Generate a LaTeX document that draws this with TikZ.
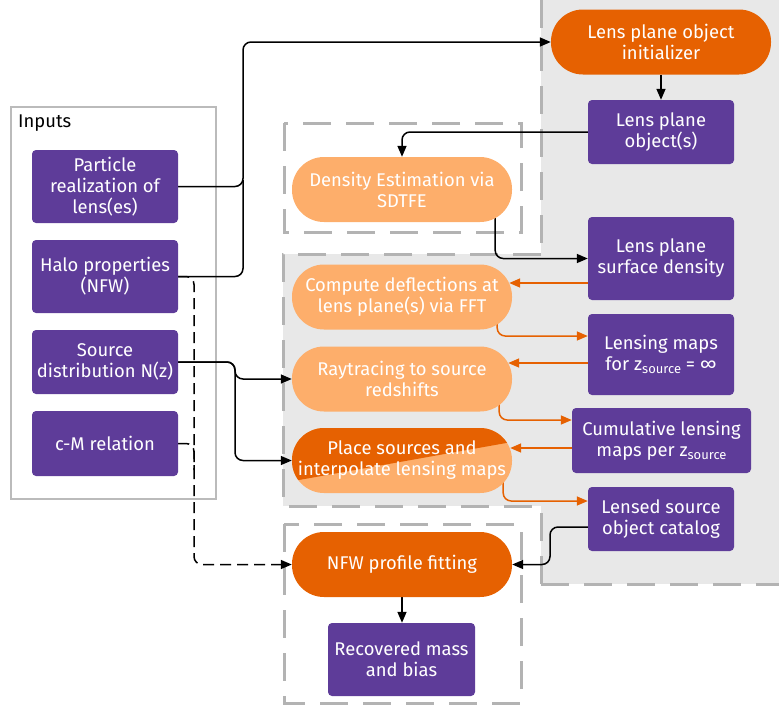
\documentclass[tikz,border=0pt]{standalone}
\usepackage{fontspec}
\setmainfont{Fira Sans}
\usetikzlibrary{arrows.meta}
\definecolor{purp}{HTML}{5E3C99}
\definecolor{dor}{HTML}{E66101}
\definecolor{lor}{HTML}{FDAE6B}
\definecolor{regfill}{HTML}{E8E8E8}
\definecolor{dashc}{HTML}{B3B3B3}
\definecolor{inbord}{HTML}{BBBBBB}
\pgfdeclarelayer{back}\pgfdeclarelayer{bg}\pgfsetlayers{back,bg,main}
\newcommand\zsrc{z\raisebox{-3pt}{\fontsize{13}{13}\selectfont source}}
\begin{document}
\begin{tikzpicture}[x=1pt,y=-1pt,font=\fontsize{18.4}{21}\selectfont,
  pbox/.style={fill=purp,text=white,rounded corners=4pt,align=center,inner sep=0pt,minimum width=146pt},
  stad/.style={rounded corners=32pt,align=center,text=white,inner sep=0pt,minimum width=220pt,minimum height=65pt},
  regdash/.style={draw=dashc,line width=3pt,dash pattern=on 28pt off 15pt},
  blk/.style={draw=black,line width=1.5pt,-{Triangle[length=11pt,width=9pt]},rounded corners=8pt},
  blkline/.style={draw=black,line width=1.5pt,rounded corners=8pt},
  blkdash/.style={draw=black,line width=1.5pt,rounded corners=8pt,dash pattern=on 11pt off 6pt},
  org/.style={draw=dor,line width=1.5pt,-{Triangle[length=11pt,width=9pt]},rounded corners=8pt}]
\useasboundingbox (0,0) rectangle (779,713);

% regions
\begin{pgfonlayer}{back}
\fill[regfill] (541,-10) rectangle (790,584);
\fill[regfill] (283,254) rectangle (541,506);
\draw[regdash] (541,0) -- (541,254);
\draw[regdash] (541,584) -- (541,506);
\draw[regdash] (541,584) -- (790,584);
\draw[regdash] (541,254) -- (283,254) -- (283,506) -- (541,506);
\draw[regdash] (284,123) rectangle (521,232);
\draw[regdash] (284,524) rectangle (521,703);
\draw[draw=inbord,line width=2pt] (11,107) rectangle (216,499);
\end{pgfonlayer}

\node[anchor=base west,inner sep=0pt] (inlab) at (18,127) {Inputs};

% input boxes
\node[pbox,minimum height=73pt] (part) at (105,186.5) {Particle\\realization of\\lens(es)};
\node[pbox,minimum height=73pt] (halo) at (105,276.5) {Halo properties\\(NFW)};
\node[pbox,minimum height=64pt] (src) at (105,362) {Source\\distribution N(z)};
\node[pbox,minimum height=65pt] (cm) at (105,443.5) {c-M relation};

% right boxes
\node[pbox,minimum height=64pt] (lpo) at (661,132) {Lens plane\\object(s)};
\node[pbox,minimum height=83pt] (lpsd) at (661,258.5) {Lens plane\\surface density};
\node[pbox,minimum height=81pt] (lmaps) at (661,354.5) {Lensing maps\\for \zsrc{} = ∞};
\node[pbox,minimum height=65pt,minimum width=179pt] (cumul) at (661.5,440.5) {Cumulative lensing\\maps per \zsrc};
\node[pbox,minimum height=64pt] (lensed) at (661,519) {Lensed source\\object catalog};
\node[pbox,minimum height=73pt,minimum width=147pt] (rec) at (401.5,659.5) {Recovered mass\\and bias};

% stadiums
\node[stad,fill=dor] (init) at (661,42) {Lens plane object\\initializer};
\node[stad,fill=lor] (dens) at (402,189.5) {Density Estimation via\\SDTFE};
\node[stad,fill=lor] (comp) at (402,297) {Compute deflections at\\lens plane(s) via FFT};
\node[stad,fill=lor] (ray) at (402,379) {Raytracing to source\\redshifts};
\begin{scope}
\clip[rounded corners=32pt] (292,428) rectangle (512,493);
\fill[lor] (290,426) rectangle (514,495);
\fill[dor] (290,426) -- (290,481.6) -- (514,441.6) -- (514,426) -- cycle;
\end{scope}
\node[stad] (place) at (402,460.5) {Place sources and\\interpolate lensing maps};
\node[stad,fill=dor] (nfw) at (402,564.5) {NFW profile fitting};

% connectors
\begin{pgfonlayer}{bg}
\draw[blk] (part.east) -| (243,42) -- (init.west);
\draw[blkline] (halo.east) -| (243,180);
\draw[blk] (init.south) -- (lpo.north);
\draw[blk] (lpo.west) -| (dens.north);
\draw[blk] ([xshift=-17pt,yshift=10pt]dens.south east) |- (lpsd.west);
\draw[org] ([yshift=-24.5pt]lpsd.west) -- ([xshift=-3pt,yshift=14pt]comp.east);
\draw[org] ([xshift=-15pt,yshift=10pt]comp.south east) |- ([yshift=18.5pt]lmaps.west);
\draw[org] ([yshift=-8.5pt]lmaps.west) -- ([xshift=-4pt,yshift=16pt]ray.east);
\draw[org] ([xshift=-13pt,yshift=10pt]ray.south east) |- ([yshift=20.5pt]cumul.west);
\draw[org] ([yshift=-7.5pt]cumul.west) -- ([xshift=-2pt,yshift=12.5pt]place.east);
\draw[org] ([xshift=-9pt,yshift=14pt]place.south east) |- ([yshift=18pt]lensed.west);
\draw[blk] ([yshift=-8pt]lensed.west) -| (550,564.5) -- (nfw.east);
\draw[blk] (src.east) -| (235,379) -- (ray.west);
\draw[blk] (src.east) -- (235,362) -- (235,460.5) -- (place.west);
\draw[blk] (nfw.south) -- (nfw.south |- rec.north);
\draw[blkdash,-{Triangle[length=11pt,width=9pt]}] (halo.east) -- (194,276.5) -- (194,564.5) -- (nfw.west);
\draw[blkdash] (cm.east) -| (194,470);
\end{pgfonlayer}
\end{tikzpicture}
\end{document}
